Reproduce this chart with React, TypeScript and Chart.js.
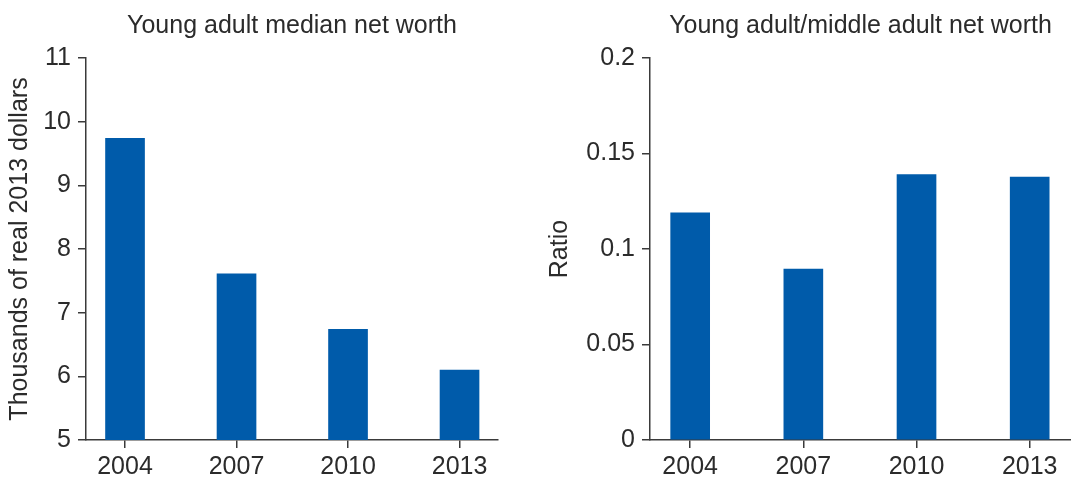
import React, { useEffect, useRef } from 'react';
import { Chart, registerables } from 'chart.js';

Chart.register(...registerables);

// ---- Data ----
const years = ['2004', '2007', '2010', '2013'];
const medianNetWorth = [9.74, 7.61, 6.74, 6.1];
const netWorthRatio = [0.119, 0.0895, 0.139, 0.1377];
const leftYTicks = [5, 6, 7, 8, 9, 10, 11];
const leftYTickLabels = ['5', '6', '7', '8', '9', '10', '11'];
const rightYTicks = [0, 0.05, 0.1, 0.15, 0.2];
const rightYTickLabels = ['0', '0.05', '0.1', '0.15', '0.2'];

const FONT = 'Liberation Sans';
const TEXT = '#2b2b2b';
const AXIS = '#3a3a3a';
const BAR = '#005BAA';

type PanelProps = {
  width: number;
  title: string;
  yTitle: string;
  values: number[];
  yTicks: number[];
  yLabels: string[];
  yAxisWidth: number;
  padRight: number;
  xMin: number;
  xMax: number;
};

function BarPanel(p: PanelProps) {
  const ref = useRef<HTMLCanvasElement | null>(null);
  useEffect(() => {
    if (!ref.current) return;
    const font = { family: FONT, size: 25, weight: 'normal' as const };
    const chart = new Chart(ref.current, {
      type: 'bar',
      data: {
        datasets: [
          {
            data: p.values.map((v, i) => ({ x: i, y: v })),
            backgroundColor: BAR,
            borderWidth: 0,
            barThickness: 39,
          },
        ],
      },
      options: {
        responsive: false,
        maintainAspectRatio: false,
        animation: false,
        layout: { padding: { left: 0, right: p.padRight, top: 0, bottom: 0 } },
        plugins: {
          legend: { display: false },
          tooltip: { enabled: false },
          title: {
            display: true,
            text: p.title,
            fullSize: false,
            color: TEXT,
            font,
            padding: { top: 11, bottom: 17 },
          },
        },
        scales: {
          x: {
            type: 'linear',
            min: p.xMin,
            max: p.xMax,
            offset: false,
            afterBuildTicks: (s: any) => {
              s.ticks = years.map((_, i) => ({ value: i }));
            },
            afterFit: (s: any) => {
              s.height = 40;
            },
            ticks: {
              callback: (v: any) => years[v] ?? '',
              color: TEXT,
              font,
              padding: 4,
              maxRotation: 0,
              autoSkip: false,
            },
            grid: {
              display: true,
              offset: false,
              drawOnChartArea: false,
              drawTicks: true,
              tickLength: 8,
              color: AXIS,
              lineWidth: 1.5,
            },
            border: { display: true, color: AXIS, width: 1.5 },
          },
          y: {
            type: 'linear',
            min: p.yTicks[0],
            max: p.yTicks[p.yTicks.length - 1],
            afterBuildTicks: (s: any) => {
              s.ticks = p.yTicks.map((v) => ({ value: v }));
            },
            afterFit: (s: any) => {
              s.width = p.yAxisWidth;
            },
            ticks: {
              callback: (_v: any, i: number) => p.yLabels[i],
              color: TEXT,
              font,
              padding: 7,
              autoSkip: false,
            },
            title: {
              display: true,
              text: p.yTitle,
              color: TEXT,
              font,
              padding: { top: 5, bottom: 0 },
            },
            grid: {
              display: true,
              offset: false,
              drawOnChartArea: false,
              drawTicks: true,
              tickLength: 8,
              color: AXIS,
              lineWidth: 1.5,
            },
            border: { display: true, color: AXIS, width: 1.5 },
          },
        },
      } as any,
    });
    return () => chart.destroy();
  }, []);
  return (
    <div style={{ width: p.width, height: 480 }}>
      <canvas ref={ref} width={p.width} height={480} style={{ display: 'block' }} />
    </div>
  );
}

export default function App() {
  return (
    <div
      style={{
        position: 'absolute',
        left: 0,
        top: 0,
        width: 1071,
        height: 480,
        display: 'flex',
        background: '#fff',
      }}
    >
      <BarPanel
        width={540}
        title="Young adult median net worth"
        yTitle="Thousands of real 2013 dollars"
        values={medianNetWorth}
        yTicks={leftYTicks}
        yLabels={leftYTickLabels}
        yAxisWidth={86}
        padRight={42}
        xMin={-0.35}
        xMax={3.345}
      />
      <BarPanel
        width={531}
        title="Young adult/middle adult net worth"
        yTitle="Ratio"
        values={netWorthRatio}
        yTicks={rightYTicks}
        yLabels={rightYTickLabels}
        yAxisWidth={110}
        padRight={0}
        xMin={-0.355}
        xMax={3.365}
      />
    </div>
  );
}
